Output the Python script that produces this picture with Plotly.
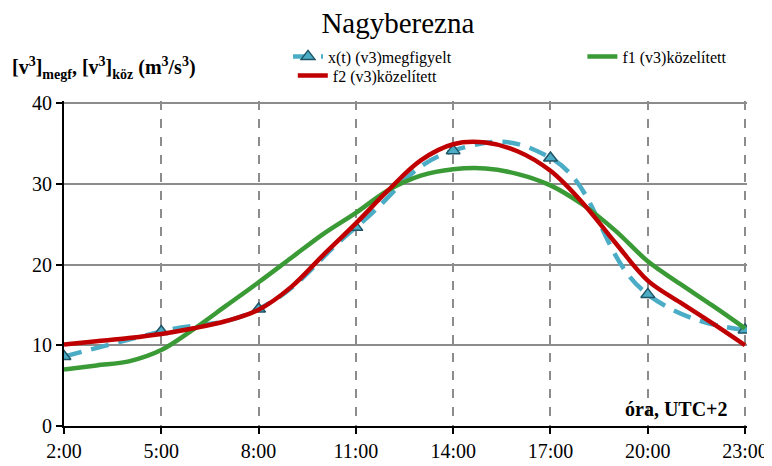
import plotly.graph_objects as go

# Observed values (every 3 hours)
obs_hours = [2, 5, 8, 11, 14, 17, 20, 23]
obs_vals = [8.6, 11.7, 14.5, 24.6, 34.1, 33.2, 16.3, 11.9]

# Approximating curves read hourly
fit_hours = list(range(2, 24))
f1_vals = [7.0, 7.5, 8.0, 9.4, 12.0, 14.9, 17.8, 20.8, 23.8, 26.4, 29.2, 31.0,
           31.8, 31.9, 31.2, 29.8, 27.4, 24.2, 20.4, 17.6, 14.9, 12.1]
f2_vals = [10.1, 10.5, 10.9, 11.4, 12.1, 13.0, 14.4, 17.2, 21.2, 25.1, 29.2, 32.9,
           34.9, 35.1, 34.0, 31.6, 27.6, 22.7, 18.0, 15.3, 12.7, 10.0]

tick_vals = [2, 5, 8, 11, 14, 17, 20, 23]
tick_text = ["2:00", "5:00", "8:00", "11:00", "14:00", "17:00", "20:00", "23:00"]
y_ticks = [0, 10, 20, 30, 40]

FONT = "Liberation Serif"

fig = go.Figure()
fig.add_trace(go.Scatter(
    x=obs_hours, y=obs_vals, name="x(t) (v3)megfigyelt", legend="legend",
    mode="lines+markers",
    line=dict(color="#4bacc6", width=4.5, dash="18px,10px", shape="spline", smoothing=1.3),
    marker=dict(symbol="triangle-up", size=12, color="#4bacc6",
                line=dict(color="#1f5566", width=1.5)),
))
fig.add_trace(go.Scatter(
    x=fit_hours, y=f1_vals, name="f1 (v3)közelített", legend="legend2",
    mode="lines",
    line=dict(color="#3a9a35", width=4.5, shape="spline", smoothing=1),
))
fig.add_trace(go.Scatter(
    x=fit_hours, y=f2_vals, name="f2 (v3)közelített", legend="legend3",
    mode="lines",
    line=dict(color="#c00000", width=4.5, shape="spline", smoothing=1),
))

leg_common = dict(font=dict(family=FONT, size=16, color="black"),
                  bgcolor="rgba(0,0,0,0)", yanchor="middle", xanchor="left",
                  orientation="h")

fig.update_layout(
    width=772, height=466,
    margin=dict(l=56, r=27, t=93, b=38),
    paper_bgcolor="white", plot_bgcolor="white",
    font=dict(family=FONT, color="black", size=20),
    title=dict(text="Nagyberezna", x=0.505, xanchor="center",
               yref="container", y=0.99, yanchor="top",
               font=dict(family=FONT, size=29, color="black")),
    showlegend=True,
    legend=dict(x=0.328, y=1.137, **leg_common),
    legend2=dict(x=0.759, y=1.137, **leg_common),
    legend3=dict(x=0.335, y=1.078, **leg_common),
    xaxis=dict(range=[2, 23.06], tickvals=tick_vals, ticktext=tick_text,
               showgrid=True, gridcolor="#8c8c8c", gridwidth=2, griddash="dash",
               showline=True, linecolor="black", linewidth=2,
               ticks="outside", ticklen=6, tickwidth=2, tickcolor="black",
               zeroline=False, tickfont=dict(family=FONT, size=20)),
    yaxis=dict(range=[0, 40.25], tickvals=y_ticks,
               showgrid=True, gridcolor="#8c8c8c", gridwidth=2,
               showline=True, linecolor="black", linewidth=2,
               ticks="outside", ticklen=6, tickwidth=2, tickcolor="black",
               zeroline=False, tickfont=dict(family=FONT, size=20)),
)

fig.add_annotation(
    text="<b>[v<sup>3</sup>]<sub>megf</sub>, [v<sup>3</sup>]<sub>köz</sub> (m<sup>3</sup>/s<sup>3</sup>)</b>",
    xref="paper", yref="paper", x=-0.079, xanchor="left", y=1.102, yanchor="middle",
    showarrow=False, font=dict(family=FONT, size=20, color="black"))
fig.add_annotation(
    text="<b>óra, UTC+2</b>",
    xref="paper", yref="paper", x=0.975, xanchor="right", y=0.051, yanchor="middle",
    showarrow=False, font=dict(family=FONT, size=20, color="black"))

fig.write_html("out.html")
